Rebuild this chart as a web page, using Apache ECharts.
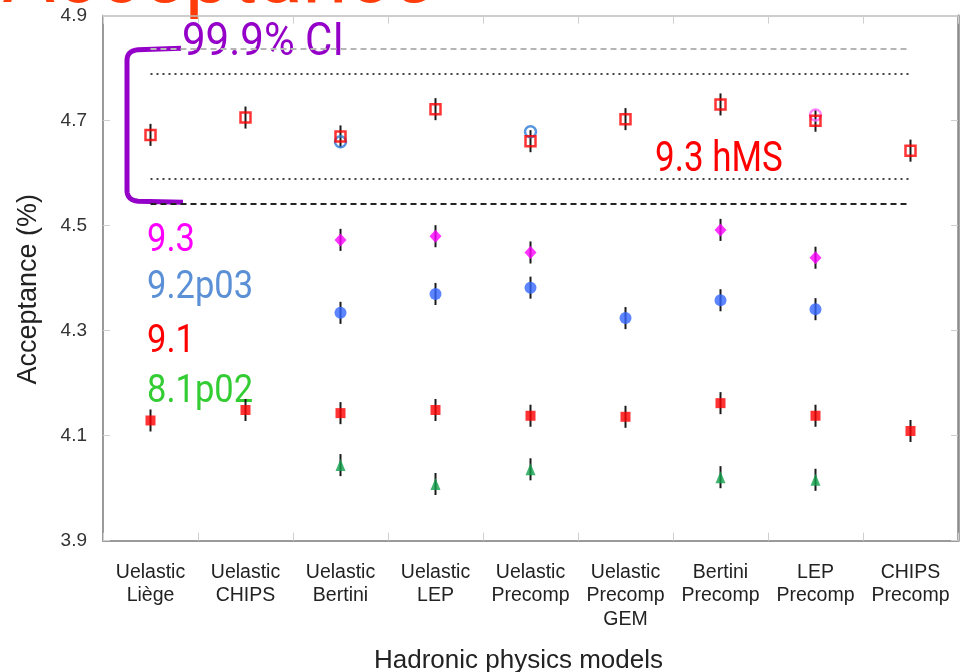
<!DOCTYPE html>
<html><head><meta charset="utf-8">
<script src="https://cdn.jsdelivr.net/npm/echarts@6/dist/echarts.min.js"></script>
<style>html,body{margin:0;padding:0;background:#fff}#c{width:961px;height:672px}</style>
</head><body><div id="c"></div>
<script>
// ---- data ----
const categories = ['Uelastic\nLiège','Uelastic\nCHIPS','Uelastic\nBertini','Uelastic\nLEP','Uelastic\nPrecomp','Uelastic\nPrecomp\nGEM','Bertini\nPrecomp','LEP\nPrecomp','CHIPS\nPrecomp'];
const yMin = 3.9, yMax = 4.9, yStep = 0.2;
// 9.3 hMS (open red squares)
const hms93 = [4.673, 4.706, 4.670, 4.722, 4.661, 4.703, 4.731, 4.700, 4.643];
// 9.2p03 hMS (open blue circles, mostly hidden)
const hms92 = [null, null, 4.660, null, 4.679, null, null, null, null];
// 9.3 hMS pink open circle
const hms93b = [null, null, null, null, null, null, null, 4.711, null];
// 9.3 (magenta diamonds)
const v93 = [null, null, 4.473, 4.480, 4.449, null, 4.492, 4.439, null];
// 9.2p03 (blue circles)
const v92 = [null, null, 4.334, 4.370, 4.382, 4.324, 4.358, 4.341, null];
// 9.1 (red squares)
const v91 = [4.129, 4.149, 4.143, 4.149, 4.138, 4.136, 4.162, 4.138, 4.109];
// 8.1p02 (green triangles)
const v81 = [null, null, 4.044, 4.008, 4.036, null, 4.021, 4.016, null];
// error half-width, same for all points
const errHalf = [0.021, 0.021, 0.021, 0.021, 0.021, 0.021, 0.021, 0.021, 0.021];
// 99.9% CI reference lines: outer (gray dashed), inner dotted, inner dotted, outer (black dashed)
const ciLines = [4.838, 4.789, 4.590, 4.541];
const legendLabels = ['9.3', '9.2p03', '9.1', '8.1p02'];

// ---- chart ----
const chart = echarts.init(document.getElementById('c'));
const AX = 'Liberation Sans, Arial, sans-serif';

function pts(vals){ return vals.map((v,i)=>v==null?null:[i,v]).filter(d=>d); }
function errData(vals){ return vals.map((v,i)=>v==null?null:[i, v-errHalf[i], v+errHalf[i]]).filter(d=>d); }
function errSeries(vals){
  return {type:'custom', silent:true, z:2, xAxisIndex:0, yAxisIndex:0,
    data: errData(vals), encode:{x:0, y:[1,2]},
    renderItem(params, api){
      const a = api.coord([api.value(0), api.value(1)]);
      const b = api.coord([api.value(0), api.value(2)]);
      return {type:'line', shape:{x1:a[0], y1:a[1], x2:b[0], y2:b[1]}, style:{stroke:'#1a1a1a', lineWidth:2}};
    }};
}
function sc(vals, symbol, size, itemStyle, z){
  return {type:'scatter', data:pts(vals), symbol, symbolSize:size, itemStyle, z, silent:true, xAxisIndex:0, yAxisIndex:0};
}
const last = categories.length - 1;
function refLine(v, color, dash, width){
  return [{coord:[0, v], lineStyle:{color, type:dash, width}}, {coord:[last, v]}];
}

const option = {
  animation:false,
  grid:{left:103, right:3, top:15.7, bottom:131.3, containLabel:false, outerBoundsMode:'none'},
  xAxis:[
    {type:'category', data:categories, position:'bottom', boundaryGap:true,
     axisLine:{show:true, lineStyle:{color:'#9a9a9a', width:2}},
     axisTick:{show:true, inside:true, length:8, lineStyle:{color:'#cfcfcf', width:1}},
     axisLabel:{interval:0, fontFamily:AX, fontSize:19.5, color:'#222', lineHeight:23.5, margin:20},
     splitLine:{show:false},
     name:'Hadronic physics models', nameLocation:'middle', nameGap:107,
     nameTextStyle:{fontFamily:AX, fontSize:26, color:'#222', padding:[0,24,0,0]}},
    {type:'category', data:categories, position:'top', boundaryGap:true,
     axisLine:{show:true, lineStyle:{color:'#bdbdbd', width:1.5}},
     axisTick:{show:true, inside:true, length:8, lineStyle:{color:'#cfcfcf', width:1}},
     axisLabel:{show:false}, splitLine:{show:false}}
  ],
  yAxis:[
    {type:'value', min:yMin, max:yMax, interval:yStep, position:'left',
     axisLine:{show:true, lineStyle:{color:'#9a9a9a', width:2}},
     axisTick:{show:true, inside:true, length:7, lineStyle:{color:'#cfcfcf', width:1}},
     axisLabel:{formatter:v=>v.toFixed(1), fontFamily:AX, fontSize:19, color:'#333', margin:16},
     splitLine:{show:false},
     name:'Acceptance (%)', nameLocation:'middle', nameGap:61,
     nameTextStyle:{fontFamily:AX, fontSize:27, color:'#222', padding:[0,22,0,0]}},
    {type:'value', min:yMin, max:yMax, interval:yStep, position:'right',
     axisLine:{show:true, lineStyle:{color:'#8a8a8a', width:2.5}},
     axisTick:{show:true, inside:true, length:7, lineStyle:{color:'#cfcfcf', width:1}},
     axisLabel:{show:false}, splitLine:{show:false}}
  ],
  series:[
    {type:'line', data:[], silent:true, xAxisIndex:0, yAxisIndex:0,
     markLine:{silent:true, symbol:'none', label:{show:false}, animation:false,
       data:[
         refLine(ciLines[0], '#b5b5b5', [6,4], 2),
         refLine(ciLines[1], '#444', [2,4], 2),
         refLine(ciLines[2], '#444', [2,4], 2),
         refLine(ciLines[3], '#222', [6,4], 1.8)
       ]}},
    errSeries(hms93), errSeries(v93), errSeries(v92), errSeries(v91), errSeries(v81),
    sc(hms92, 'circle', 11, {color:'rgba(0,0,0,0)', borderColor:'#2c7bd6', borderWidth:2.5}, 3),
    sc(hms93b, 'circle', 11, {color:'rgba(0,0,0,0)', borderColor:'#ff66ff', borderWidth:2.5}, 3),
    sc(hms93, 'rect', 10, {color:'rgba(0,0,0,0)', borderColor:'#ff0000', borderWidth:2.5}, 4),
    sc(v93, 'diamond', [12,13], {color:'#ff00ff'}, 4),
    sc(v92, 'circle', 12, {color:'#3366ff'}, 4),
    sc(v91, 'rect', 10, {color:'#ff0000'}, 4),
    sc(v81, 'triangle', [10,12], {color:'#10a04a'}, 4)
  ]
};
chart.setOption(option);

// annotations
const yTop = chart.convertToPixel({yAxisIndex:0}, ciLines[0]);
const yBot = chart.convertToPixel({yAxisIndex:0}, ciLines[3]) - 3;
const bx = 127, bEnd = 181, r = 11;
function quad(p0, p1, p2, n){
  const out = [];
  for (let k = 1; k <= n; k++){
    const t = k / n, u = 1 - t;
    out.push([u*u*p0[0] + 2*u*t*p1[0] + t*t*p2[0], u*u*p0[1] + 2*u*t*p1[1] + t*t*p2[1]]);
  }
  return out;
}
const bracket = [[bEnd, yTop], [bx + r, yTop + 1.5]]
  .concat(quad([bx + r, yTop + 1.5], [bx, yTop + 2.5], [bx, yTop + r + 1], 8))
  .concat([[bx, yBot - r]])
  .concat(quad([bx, yBot - r], [bx, yBot - 1], [bx + r, yBot], 8))
  .concat([[bEnd + 2, yBot + 1]]);
const legendColors = ['#ff00ff', '#5b8fd6', '#ff0000', '#33cc33'];
const legendTops = [222, 269, 323, 373];
const TF = 'Roboto, sans-serif';
const graphics = [
  {type:'text', x:2, y:-60, style:{text:'Acceptance', fontFamily:TF, fontSize:82, fill:'#ff3c0a', verticalAlign:'top'}},
  {type:'polyline', shape:{points:bracket}, style:{stroke:'#9400c8', lineWidth:5, fill:null, lineJoin:'round'}},
  {type:'text', x:182, y:20, scaleY:1.12, style:{text:'99.9% CI', fontFamily:TF, fontSize:42, fill:'#9400c8', verticalAlign:'top'}},
  {type:'text', x:655, y:139, scaleY:1.22, style:{text:'9.3 hMS', fontFamily:TF, fontSize:35, fill:'#ff0000', verticalAlign:'top'}}
];
legendLabels.forEach((t,i)=>graphics.push({type:'text', x:147, y:legendTops[i], scaleY:1.12,
  style:{text:t, fontFamily:TF, fontSize:34.5, fill:legendColors[i], verticalAlign:'top'}}));
chart.setOption({graphic:graphics});
</script></body></html>
